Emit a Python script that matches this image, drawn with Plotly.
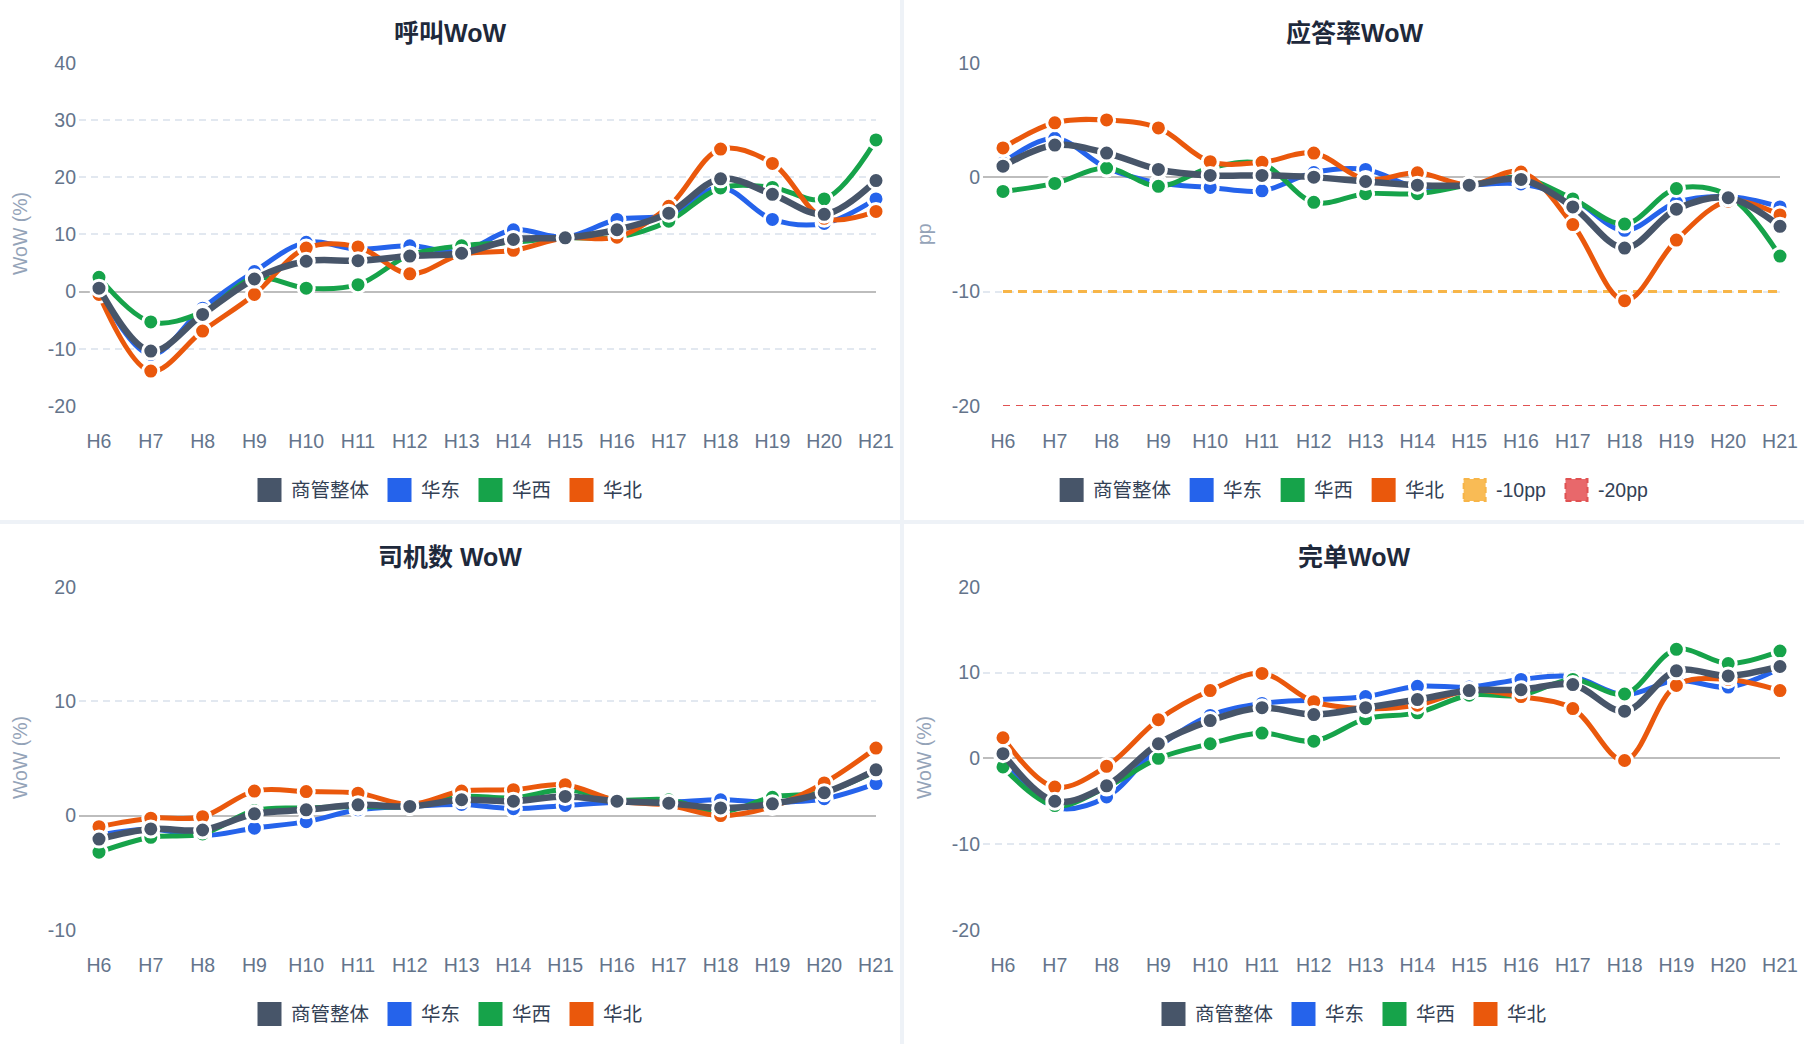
import plotly.graph_objects as go

# ---- data ----
hours = ['H6', 'H7', 'H8', 'H9', 'H10', 'H11', 'H12', 'H13',
         'H14', 'H15', 'H16', 'H17', 'H18', 'H19', 'H20', 'H21']
series_names = ['商管整体', '华东', '华西', '华北']

call_overall = [0.6, -10.4, -4.0, 2.2, 5.3, 5.4, 6.2, 6.7, 9.1, 9.4, 10.8, 13.7, 19.7, 17.0, 13.5, 19.4]
call_east = [0.3, -11.0, -2.9, 3.5, 8.6, 7.4, 8.0, 7.0, 10.8, 9.5, 12.6, 13.4, 18.2, 12.6, 11.9, 16.2]
call_west = [2.5, -5.3, -3.6, 2.4, 0.6, 1.2, 6.4, 8.0, 8.6, 9.4, 9.5, 12.3, 18.1, 18.2, 16.2, 26.5]
call_north = [-0.5, -13.9, -6.9, -0.5, 7.6, 7.8, 3.1, 6.5, 7.2, 9.4, 9.5, 14.9, 24.9, 22.4, 12.8, 14.0]

answer_overall = [0.96, 2.8, 2.1, 0.67, 0.15, 0.15, 0.0, -0.38, -0.7, -0.7, -0.2, -2.6, -6.2, -2.8, -1.8, -4.3]
answer_east = [1.25, 3.4, 0.8, -0.5, -0.9, -1.2, 0.4, 0.67, -0.9, -0.7, -0.6, -1.9, -4.65, -2.2, -1.7, -2.6]
answer_west = [-1.25, -0.55, 0.8, -0.8, 0.8, 1.15, -2.2, -1.45, -1.45, -0.7, -0.05, -1.9, -4.1, -1.0, -1.6, -6.9]
answer_north = [2.55, 4.75, 5.0, 4.3, 1.35, 1.3, 2.1, -0.2, 0.38, -0.7, 0.45, -4.15, -10.8, -5.5, -2.1, -3.3]

driver_overall = [-2.05, -1.17, -1.26, 0.15, 0.5, 0.94, 0.8, 1.38, 1.26, 1.67, 1.26, 1.08, 0.67, 1.03, 2.0, 4.0]
driver_east = [-1.7, -1.2, -1.76, -1.1, -0.53, 0.5, 0.8, 0.97, 0.6, 0.88, 1.17, 1.17, 1.38, 1.17, 1.47, 2.8]
driver_west = [-3.2, -1.9, -1.6, 0.44, 0.67, 0.8, 0.8, 1.67, 1.55, 2.26, 1.38, 1.38, 0.3, 1.6, 2.05, 3.9]
driver_north = [-0.97, -0.23, -0.1, 2.14, 2.1, 1.96, 0.97, 2.14, 2.26, 2.7, 1.3, 0.9, 0.0, 0.8, 2.85, 5.9]

order_overall = [0.55, -5.0, -3.2, 1.7, 4.4, 5.9, 5.1, 5.9, 6.85, 7.9, 8.0, 8.6, 5.5, 10.2, 9.6, 10.7]
order_east = [0.15, -5.7, -4.5, 1.3, 5.0, 6.4, 6.8, 7.2, 8.4, 8.3, 9.2, 9.5, 7.4, 9.1, 8.3, 10.5]
order_west = [-1.0, -5.5, -3.35, 0.0, 1.7, 2.95, 2.0, 4.6, 5.3, 7.35, 7.35, 9.2, 7.5, 12.7, 11.05, 12.5]
order_north = [2.4, -3.35, -0.93, 4.5, 7.9, 9.9, 6.6, 5.8, 6.2, 7.9, 7.2, 5.8, -0.25, 8.5, 9.2, 7.9]

threshold_names = ['-10pp', '-20pp']
threshold_values = [-10, -20]

call_ticks = [-20, -10, 0, 10, 20, 30, 40]
answer_ticks = [-20, -10, 0, 10]
driver_ticks = [-10, 0, 10, 20]
order_ticks = [-20, -10, 0, 10, 20]

# ---- style ----
W, H = 1804, 1044
colors = ['#475569', '#2563eb', '#16a34a', '#ea580c']
widths = [6.5, 5, 5, 5]
thr_colors = ['#f7b548', '#e05252']
thr_fill = ['#f9bb55', '#e8686b']
thr_dash = ['9px,6px', '7px,6px']
thr_width = [3, 2]
FONT = 'Liberation Sans, Noto Sans CJK SC, sans-serif'
FS = 19.5


def px(x):
    return x / W


def py(y):
    return 1 - y / H


panels = [
    dict(title='呼叫WoW', ytitle='WoW (%)', ticks=call_ticks, ox=0, oy=0, thr=False,
         data=[call_overall, call_east, call_west, call_north]),
    dict(title='应答率WoW', ytitle='pp', ticks=answer_ticks, ox=904, oy=0, thr=True,
         data=[answer_overall, answer_east, answer_west, answer_north]),
    dict(title='司机数 WoW', ytitle='WoW (%)', ticks=driver_ticks, ox=0, oy=524, thr=False,
         data=[driver_overall, driver_east, driver_west, driver_north]),
    dict(title='完单WoW', ytitle='WoW (%)', ticks=order_ticks, ox=904, oy=524, thr=False,
         data=[order_overall, order_east, order_west, order_north]),
]


def text_width(s):
    w = 0
    for ch in s:
        if ord(ch) > 0x2e80:
            w += 1.0
        elif ch == '-':
            w += 0.333
        else:
            w += 0.556
    return w * FS


fig = go.Figure()
shapes = []
annotations = []

for i, p in enumerate(panels):
    n = '' if i == 0 else str(i + 1)
    ox, oy = p['ox'], p['oy']
    xa, ya = 'x' + n, 'y' + n

    # panel background
    shapes.append(dict(type='rect', xref='paper', yref='paper', layer='below',
                       x0=px(ox), x1=px(ox + 900), y0=py(oy + 520), y1=py(oy),
                       fillcolor='white', line=dict(width=0)))

    if p['thr']:
        for t in range(len(threshold_values)):
            fig.add_trace(go.Scatter(x=hours, y=[threshold_values[t]] * len(hours), mode='lines',
                                     name=threshold_names[t], xaxis=xa, yaxis=ya,
                                     line=dict(color=thr_colors[t], width=thr_width[t], dash=thr_dash[t]),
                                     showlegend=False, cliponaxis=False))

    # regions first, overall on top
    for k in [1, 2, 3, 0]:
        fig.add_trace(go.Scatter(
            x=hours, y=p['data'][k], mode='lines+markers', name=series_names[k],
            xaxis=xa, yaxis=ya, showlegend=False, cliponaxis=False,
            line=dict(color=colors[k], width=widths[k], shape='spline', smoothing=1),
            marker=dict(size=16, color=colors[k], line=dict(color='white', width=3))))

    tv = p['ticks']
    fig.layout['xaxis' + n] = dict(
        domain=[px(ox + 79), px(ox + 876)], anchor=ya, type='category',
        categoryorder='array', categoryarray=hours, automargin=False,
        range=[-0.386, len(hours) - 1], showgrid=False, zeroline=False, showline=False,
        ticks='', tickfont=dict(size=FS, color='#64748b'), ticklabelstandoff=21)
    fig.layout['yaxis' + n] = dict(
        domain=[py(oy + 406), py(oy + 62.7)], anchor=xa, range=[tv[0], tv[-1]],
        tickvals=tv, ticktext=[str(v) for v in tv], automargin=False,
        showgrid=True, gridcolor='#e2e8f0', gridwidth=1.5, griddash='7px,5px',
        zeroline=True, zerolinecolor='#bdbdbd', zerolinewidth=2, showline=False, ticks='',
        tickfont=dict(size=FS, color='#64748b'), ticklabelstandoff=2)

    # title
    annotations.append(dict(text='<b>' + p['title'] + '</b>', xref='paper', yref='paper',
                            x=px(ox + 450), y=py(oy + 33), xanchor='center', yanchor='middle',
                            showarrow=False, font=dict(size=25, color='#1e293b')))
    # y axis title
    annotations.append(dict(text=p['ytitle'], xref='paper', yref='paper', textangle=-90,
                            x=px(ox + 20), y=py(oy + 234), xanchor='center', yanchor='middle',
                            showarrow=False, font=dict(size=FS, color='#94a3b8')))

    # legend
    items = [(series_names[k], colors[k], None) for k in range(4)]
    if p['thr']:
        items += [(threshold_names[t], thr_fill[t], thr_colors[t]) for t in range(2)]
    total = sum(24 + 8 + text_width(it[0]) for it in items) + 20 * (len(items) - 1)
    x = ox + 449 - total / 2
    cy = oy + 490
    for name, fill, border in items:
        if border is None:
            shapes.append(dict(type='rect', xref='paper', yref='paper',
                               x0=px(x), x1=px(x + 24), y0=py(cy + 12), y1=py(cy - 12),
                               fillcolor=fill, line=dict(width=0)))
        else:
            shapes.append(dict(type='rect', xref='paper', yref='paper',
                               x0=px(x + 1), x1=px(x + 23), y0=py(cy + 11), y1=py(cy - 11),
                               fillcolor=fill, line=dict(color=border, width=2, dash='6px,4px')))
        annotations.append(dict(text=name, xref='paper', yref='paper', x=px(x + 31), y=py(cy),
                                xanchor='left', yanchor='middle', showarrow=False,
                                font=dict(size=FS, color='#334155')))
        x += 24 + 8 + text_width(name) + 20

fig.update_layout(width=W, height=H, margin=dict(l=0, r=0, t=0, b=0, autoexpand=False),
                  paper_bgcolor='#eef2f7', plot_bgcolor='rgba(0,0,0,0)',
                  font=dict(family=FONT), shapes=shapes, annotations=annotations,
                  showlegend=False, hovermode='closest')

pin = ("var d=document.getElementById('{plot_id}');"
       "d.style.position='fixed';d.style.left='0px';d.style.top='0px';"
       "document.body.style.margin='0';document.body.style.overflow='hidden';"
       "document.documentElement.style.overflow='hidden';")
fig.write_html('out.html', config={'displayModeBar': False}, post_script=pin)
